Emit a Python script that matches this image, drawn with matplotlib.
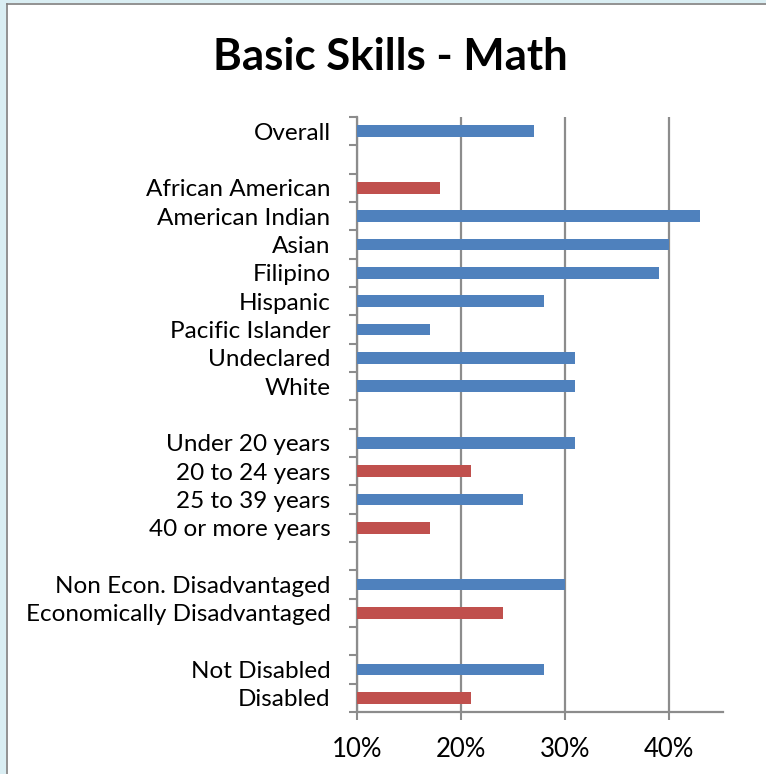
import matplotlib
matplotlib.use("Agg")
import matplotlib.pyplot as plt
from matplotlib.patches import Rectangle
from matplotlib.lines import Line2D
import numpy as np

plt.rcParams['font.family'] = ['Lato', 'DejaVu Sans']

# rows from top to bottom, "" marks an empty spacer row
labels = ["Overall", "",
          "African American", "American Indian", "Asian", "Filipino",
          "Hispanic", "Pacific Islander", "Undeclared", "White", "",
          "Under 20 years", "20 to 24 years", "25 to 39 years", "40 or more years", "",
          "Non Econ. Disadvantaged", "Economically Disadvantaged", "",
          "Not Disabled", "Disabled"]
values = [27, None,
          18, 43, 40, 39, 28, 17, 31, 31, None,
          31, 21, 26, 17, None,
          30, 24, None,
          28, 21]
flagged = [False, False,
           True, False, False, False, False, False, False, False, False,
           False, True, False, True, False,
           False, True, False,
           False, True]
xticks = [10, 20, 30, 40]

blue = "#4F81BD"
red = "#C0504D"
gray = "#8C8C8C"

W, H = 766, 774
fig = plt.figure(figsize=(W / 100, H / 100), dpi=100)
fig.patch.set_facecolor("white")

# window frame (light blue strip + gray line) on top and left
fig.patches.append(Rectangle((0, 1 - 3 / H), 1, 3 / H, transform=fig.transFigure,
                             facecolor="#DAEEF3", edgecolor="none"))
fig.patches.append(Rectangle((0, 0), 6 / W, 1, transform=fig.transFigure,
                             facecolor="#DAEEF3", edgecolor="none"))
fig.lines.append(Line2D([6.5 / W, 1], [1 - 3.5 / H, 1 - 3.5 / H], transform=fig.transFigure,
                        color="#7F7F7F", lw=1.2))
fig.lines.append(Line2D([6.5 / W, 6.5 / W], [0, 1 - 3.5 / H], transform=fig.transFigure,
                        color="#7F7F7F", lw=1.2))

left, right = 357 / W, 723 / W
bottom, top = 1 - 712 / H, 1 - 117 / H
ax = fig.add_axes([left, bottom, right - left, top - bottom])

n = len(labels)
ypos = np.arange(n)
for y, v, f in zip(ypos, values, flagged):
    if v is None:
        continue
    ax.barh(y, v - 10, left=10, height=0.42, color=red if f else blue, zorder=3)

ax.set_ylim(n - 0.5, -0.5)
ax.set_xlim(10, 45.2)

# ticks on row boundaries, labels on row centres
ax.set_yticks(np.arange(n + 1) - 0.5)
ax.set_yticklabels([])
ax.set_yticks(ypos, minor=True)
ax.set_yticklabels(labels, minor=True, fontsize=17.5)
ax.tick_params(axis="y", which="major", length=6, width=1.5, color=gray, direction="out")
ax.tick_params(axis="y", which="minor", length=0, pad=19)

ax.set_xticks(xticks)
ax.set_xticklabels([f"{t}%" for t in xticks], fontsize=18.5)
ax.tick_params(axis="x", length=6, width=1.5, color=gray, direction="out", pad=12)

ax.grid(axis="x", color=gray, lw=1.6, zorder=0)
for s in ["top", "right"]:
    ax.spines[s].set_visible(False)
for s in ["left", "bottom"]:
    ax.spines[s].set_color(gray)
    ax.spines[s].set_linewidth(1.6)

fig.text(390 / W, 1 - 57 / H, "Basic Skills - Math", fontsize=31.5, fontweight="bold",
         ha="center", va="center")

fig.savefig("out.png", dpi=100)
